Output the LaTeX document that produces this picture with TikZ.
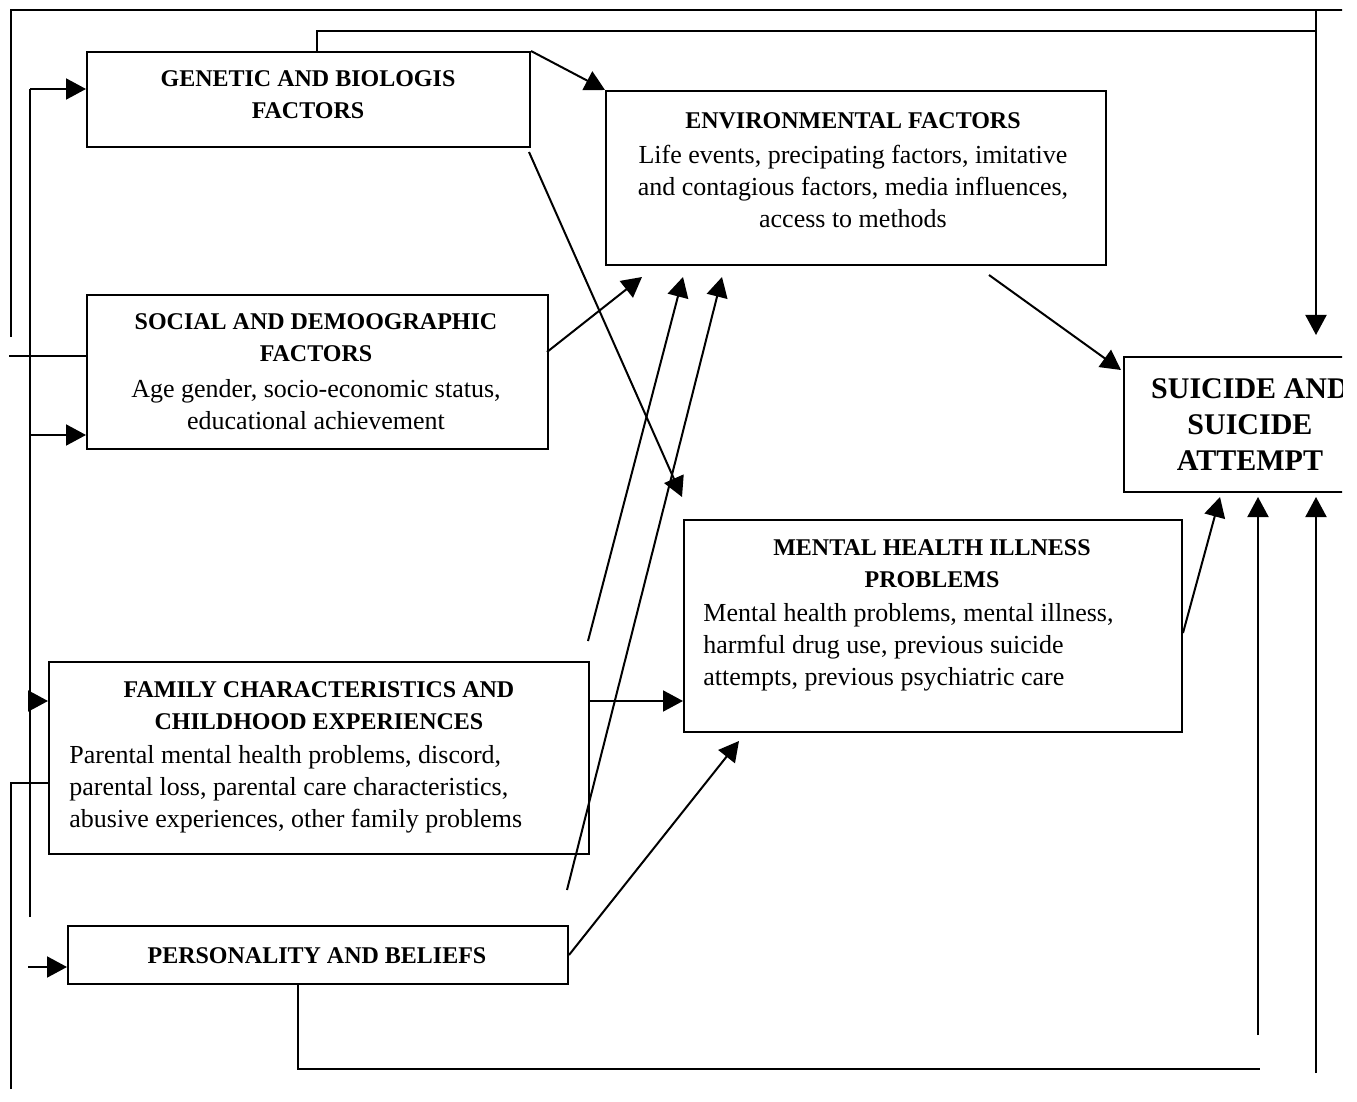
\documentclass[tikz,border=0pt]{standalone}
\usepackage{fontspec}
\setmainfont{Liberation Serif}
\usetikzlibrary{arrows.meta}

\tikzset{
  factorbox/.style={draw, line width=1pt, inner sep=0pt, anchor=north west},
  headtxt/.style={font=\fontsize{12}{16}\selectfont\bfseries, align=center, inner sep=0pt, anchor=north},
  bodytxt/.style={font=\fontsize{13}{16}\selectfont, inner sep=0pt, anchor=north},
  arrowline/.style={line width=1pt, -{Triangle[length=10pt, width=10.5pt]}},
  plainline/.style={line width=1pt},
}

\begin{document}
\begin{tikzpicture}[x=0.5pt, y=-0.5pt]
  \useasboundingbox (0,0) rectangle (1357,1102);
  \clip (0,0) rectangle (1342,1102);

  \node[factorbox, minimum width=221.5pt, minimum height=47.5pt] (gen) at (86,51) {};
  \node[factorbox, minimum width=250pt, minimum height=87pt] (env) at (605,90) {};
  \node[factorbox, minimum width=230.5pt, minimum height=77pt] (soc) at (86,294) {};
  \node[factorbox, minimum width=127pt, minimum height=67.5pt] (sui) at (1123,356) {};
  \node[factorbox, minimum width=249pt, minimum height=106pt] (mh) at (683,519) {};
  \node[factorbox, minimum width=270pt, minimum height=96pt] (fam) at (48,661) {};
  \node[factorbox, minimum width=250pt, minimum height=29pt] (pers) at (67,925) {};

  \node[headtxt] (genlbl) at (308,70) {GENETIC AND BIOLOGIS\\FACTORS};
  \node[headtxt] (envlbl) at (853,112) {ENVIRONMENTAL FACTORS};
  \node[bodytxt, align=center] (envtxt) at (853,145) {Life events, precipating factors, imitative\\and contagious factors, media influences,\\access to methods};
  \node[headtxt] (soclbl) at (316,313) {SOCIAL AND DEMOOGRAPHIC\\FACTORS};
  \node[bodytxt, align=center] (soctxt) at (316,379) {Age gender, socio-economic status,\\educational achievement};
  \node[headtxt, font=\fontsize{15}{18}\selectfont\bfseries] (suilbl) at (1250,378) {SUICIDE AND\\SUICIDE\\ATTEMPT};
  \node[headtxt] (mhlbl) at (932,539) {MENTAL HEALTH ILLNESS\\PROBLEMS};
  \node[bodytxt, anchor=north west, align=left] (mhtxt) at (703,603) {Mental health problems, mental illness,\\harmful drug use, previous suicide\\attempts, previous psychiatric care};
  \node[headtxt] (famlbl) at (319,681) {FAMILY CHARACTERISTICS AND\\CHILDHOOD EXPERIENCES};
  \node[bodytxt, anchor=north west, align=left] (famtxt) at (69,745) {Parental mental health problems, discord,\\parental loss, parental care characteristics,\\abusive experiences, other family problems};
  \node[headtxt] (perslbl) at (317,947) {PERSONALITY AND BELIEFS};

  \coordinate (outerend) at (11,337);
  \coordinate (outertop) at (11,10);
  \coordinate (outerright) at (1357,10);
  \coordinate (suidrop) at (1316,335);
  \coordinate (trunktop) at (30,89);
  \coordinate (trunkend) at (30,917);
  \coordinate (socfeed) at (9,356);
  \coordinate (famfeed) at (11,1089);
  \coordinate (persfeed) at (28,967);
  \coordinate (bottomend) at (1260,1069);
  \coordinate (riseA) at (1258,1035);
  \coordinate (riseB) at (1316,1073);
  \coordinate (envout) at (989,275);
  \coordinate (suiin) at (1121,370);
  \coordinate (mhout) at (1220,497);
  \coordinate (mhin) at (682,497);
  \coordinate (genout) at (529,152);
  \coordinate (socout) at (547,352);
  \coordinate (envinA) at (642,277);
  \coordinate (famout) at (588,641);
  \coordinate (envinB) at (683,277);
  \coordinate (persout) at (567,890);
  \coordinate (envinC) at (722,277);
  \coordinate (mhinB) at (739,741);

  \draw[plainline] (outerend) -- (outertop) -- (outerright);
  \draw[arrowline] (outertop -| suidrop) -- (suidrop);
  \draw[plainline] (gen.north -| 317,0) -- (317,31) -- (suidrop |- 0,31);
  \draw[plainline] (trunkend) -- (trunktop);
  \draw[arrowline] (trunktop) -- (gen.west |- trunktop);
  \draw[arrowline] (30,435) -- (soc.west |- 0,435);
  \draw[arrowline] (30,701) -- (fam.west |- 0,701);
  \draw[arrowline] (persfeed) -- (pers.west |- persfeed);
  \draw[plainline] (socfeed) -- (soc.west |- socfeed);
  \draw[plainline] (famfeed) -- (11,783) -- (fam.west |- 0,783);
  \draw[plainline] (pers.south -| 298,0) -- (298,1069) -- (bottomend);
  \draw[arrowline] (riseA) -- (riseA |- 0,497);
  \draw[arrowline] (riseB) -- (riseB |- 0,497);
  \draw[arrowline] (mh.east |- 0,633) -- (mhout);
  \draw[arrowline] (envout) -- (suiin);
  \draw[arrowline] (gen.north east) -- (env.north west);
  \draw[arrowline] (genout) -- (mhin);
  \draw[arrowline] (socout) -- (envinA);
  \draw[arrowline] (famout) -- (envinB);
  \draw[arrowline] (persout) -- (envinC);
  \draw[arrowline] (fam.east |- 0,701) -- (mh.west |- 0,701);
  \draw[arrowline] (pers.east) -- (mhinB);
\end{tikzpicture}
\end{document}
